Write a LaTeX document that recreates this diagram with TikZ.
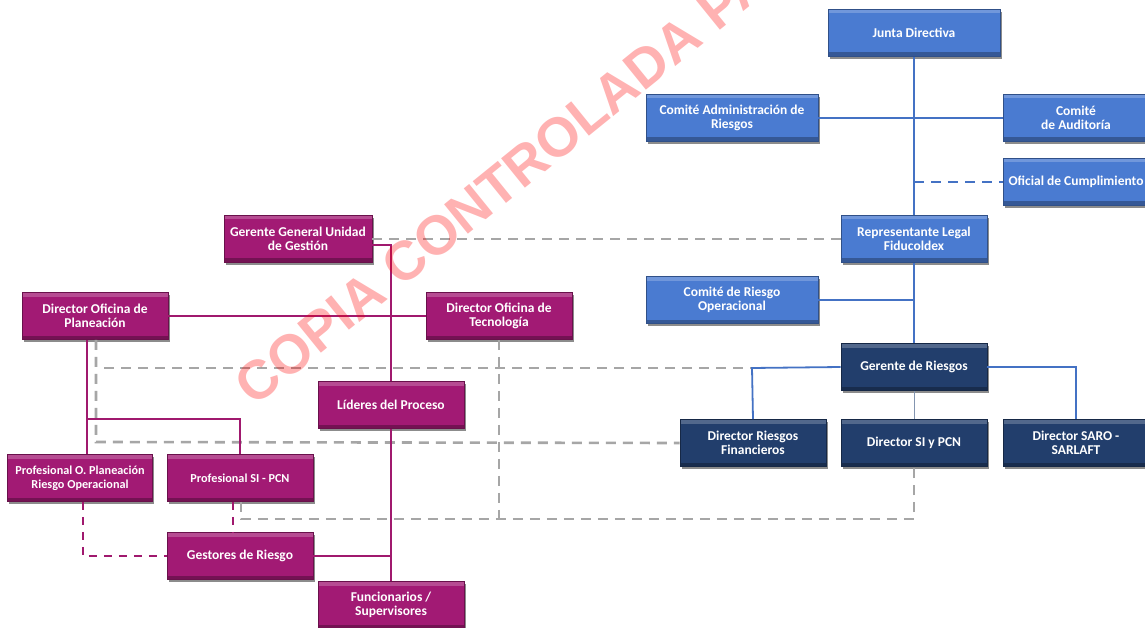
\documentclass[tikz,border=0pt]{standalone}
\usepackage{fontspec}
\setmainfont{Carlito}
\newfontfamily\wmfont{Liberation Sans}
\usetikzlibrary{shadows,calc}
\definecolor{blueb}{HTML}{4A7BD1}
\definecolor{navyb}{HTML}{223E6C}
\definecolor{magb}{HTML}{A21A74}
\definecolor{blueln}{HTML}{4472C4}
\definecolor{magln}{HTML}{A0196E}
\definecolor{grayln}{HTML}{A6A6A6}
\definecolor{thinln}{HTML}{8395B0}
\begin{document}
\begin{tikzpicture}[x=1pt,y=-1pt,
  orgbox/.style={minimum width=146pt, minimum height=47pt, inner sep=1pt, align=center,
    text=white, font=\bfseries\fontsize{13.5}{14.5}\selectfont,
    draw=#1!65!black, line width=0.8pt, fill=#1,
    drop shadow={shadow xshift=1.5pt, shadow yshift=-2.2pt, opacity=0.45, fill=black},
    path picture={
      \fill[white, opacity=0.22] (path picture bounding box.north west) rectangle ([yshift=-4pt]path picture bounding box.north east);
      \fill[black, opacity=0.28] (path picture bounding box.south west) rectangle ([yshift=4pt]path picture bounding box.south east);
    }},
  bl/.style={orgbox=blueb},
  nv/.style={orgbox=navyb},
  mg/.style={orgbox=magb},
  wide/.style={minimum width=172pt},
  small/.style={font=\bfseries\fontsize{12.2}{13.5}\selectfont},
  blline/.style={draw=blueln, line width=1.8pt},
  mgline/.style={draw=magln, line width=1.5pt},
  mgdash/.style={draw=magln, line width=2.4pt, dash pattern=on 8pt off 7pt},
  grdash/.style={draw=grayln, line width=2.6pt, dash pattern=on 10pt off 7pt},
  bldash/.style={draw=blueln, line width=2.6pt, dash pattern=on 10pt off 7pt}
]
\useasboundingbox (0,0) rectangle (1145,628);
\clip (0,0) rectangle (1145,628);
\fill[white] (0,0) rectangle (1145,628);

% ---------- blue / navy nodes ----------
\node[bl, wide] (jd) at (914,33) {Junta Directiva};
\node[bl, wide] (car) at (732,118) {Comité Administración de\\Riesgos};
\node[bl] (cau) at (1076,118) {Comité\\de Auditoría};
\node[bl] (oc) at (1076,182) {Oficial de Cumplimiento};
\node[bl] (rl) at (914,239) {Representante Legal\\Fiducoldex};
\node[bl, wide] (cro) at (732,300) {Comité de Riesgo\\Operacional};
\node[nv] (gr) at (914,367) {Gerente de Riesgos};
\node[nv] (drf) at (753,443) {Director Riesgos\\Financieros};
\node[nv] (dsi) at (914,443) {Director SI y PCN};
\node[nv] (dsaro) at (1076,443) {Director SARO -\\SARLAFT};

% ---------- magenta nodes ----------
\node[mg, minimum width=148pt] (ggu) at (298,239) {Gerente General Unidad\\de Gestión};
\node[mg] (dop) at (95,316) {Director Oficina de\\Planeación};
\node[mg] (dot) at (499,316) {Director Oficina de\\Tecnología};
\node[mg] (lp) at (391,405) {Líderes del Proceso};
\node[mg, small, minimum width=145pt] (pop) at (80,478) {Profesional O. Planeación\\Riesgo Operacional};
\node[mg, small] (psi) at (240,478) {Profesional SI - PCN};
\node[mg] (gdr) at (240,556) {Gestores de Riesgo};
\node[mg] (fun) at (391,605) {Funcionarios /\\Supervisores};

% helper coordinates
\coordinate (xa) at (87,0);
\coordinate (xb) at (96,0);
\coordinate (xc) at (83,0);
\coordinate (xd) at (233,0);
\coordinate (xe) at (241,0);
\coordinate (gl) at (104,368);
\coordinate (gk) at (752,368);

% ---------- gray dashed connectors ----------
\draw[grdash] (ggu.east) -- (rl.west);
\draw[grdash] (dop.south -| xb) -- (96,442) -- (drf.west);
\draw[grdash] (gl) -- (gk);
\draw[grdash] (dot.south) -- (499,519);
\draw[grdash] (psi.south -| xe) -- (241,519) -- (914,519) -- (dsi.south);

% ---------- blue connectors ----------
\draw[blline] (jd.south) -- (rl.north);
\draw[blline] (rl.south) -- (gr.north);
\draw[blline] (car.east) -- (cau.west);
\draw[bldash] (914,182) -- (oc.west);
\draw[blline] (cro.east) -- (914,300);
\draw[blline] (gr.west) -- (gk) -- (drf.north);
\draw[blline] (gr.east) -- (1076,367) -- (dsaro.north);
\draw[draw=thinln, line width=1pt] (gr.south) -- (dsi.north);

% ---------- magenta connectors ----------
\draw[mgline] ([yshift=-6pt]ggu.east) -- (391,245) -- (lp.north);
\draw[mgline] (dop.east) -- (dot.west);
\draw[mgline] (dop.south -| xa) -- (pop.north -| xa);
\draw[mgline] (87,419) -- (240,419) -- (psi.north);
\draw[mgline] (lp.south) -- (fun.north);
\draw[mgline] (gdr.east) -- (391,556);
\draw[mgdash] (pop.south -| xc) -- (83,556) -- (gdr.west);
\draw[mgdash] (psi.south -| xd) -- (gdr.north -| xd);

% ---------- watermark ----------
\node[anchor=base west, rotate=39, inner sep=0pt, text=red, opacity=0.3,
      font=\wmfont\bfseries\fontsize{55}{55}\selectfont] (wm) at (254,408) {COPIA CONTROLADA PA};
\end{tikzpicture}
\end{document}
